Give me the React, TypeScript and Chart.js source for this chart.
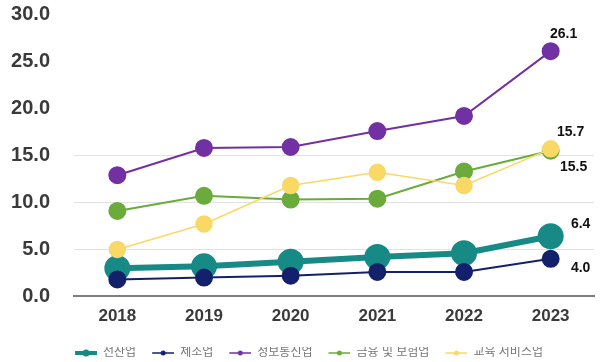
import React, { useEffect, useRef } from "react";
import { Chart, registerables } from "chart.js";

Chart.register(...registerables);

const years = ["2018", "2019", "2020", "2021", "2022", "2023"];
const seriesNames = ["전산업", "제조업", "정보통신업", "금융 및 보험업", "교육 서비스업"];
const allIndustries = [3.0, 3.2, 3.7, 4.2, 4.6, 6.4];
const manufacturing = [1.8, 2.0, 2.2, 2.6, 2.6, 4.0];
const infoComm = [12.9, 15.8, 15.9, 17.6, 19.2, 26.1];
const finance = [9.1, 10.7, 10.3, 10.4, 13.3, 15.5];
const education = [5.0, 7.7, 11.8, 13.2, 11.8, 15.7];
const yTicks = [0, 5, 10, 15, 20, 25, 30];

const FONT = "'Liberation Sans', 'Noto Sans CJK KR', Arial, sans-serif";
const colors = ["#178a86", "#13206b", "#7231a3", "#6aab3c", "#f9d866"];
const lineWidths = [6, 2, 2, 2, 1.5];
const radii = [10, 8, 8, 8, 8];

// labels at last point: [datasetIndex, dx, dy]
const endLabels: [number, number, number][] = [
  [2, 13, -17],
  [4, 20, -17],
  [3, 23, 16],
  [0, 30, -12],
  [1, 30, 9],
];

const ICON_GAP = 14;
function legendIcon(color: string, lw: number, r: number) {
  const c = document.createElement("canvas");
  c.width = 24 + ICON_GAP;
  c.height = 10;
  const ctx = c.getContext("2d")!;
  ctx.strokeStyle = color;
  ctx.lineWidth = lw;
  ctx.beginPath();
  ctx.moveTo(ICON_GAP + 2, 5);
  ctx.lineTo(ICON_GAP + 24, 5);
  ctx.stroke();
  ctx.fillStyle = color;
  ctx.beginPath();
  ctx.arc(ICON_GAP + 13, 5, r, 0, Math.PI * 2);
  ctx.fill();
  return c;
}

export default function App() {
  const ref = useRef<HTMLCanvasElement>(null);
  useEffect(() => {
    document.body.style.margin = "0";
    const values = [allIndustries, manufacturing, infoComm, finance, education];
    const icons = colors.map((c, i) => legendIcon(c, i === 0 ? 4 : 1.5, i === 0 ? 3.5 : 2.5));
    const labelPlugin = {
      id: "endLabels",
      afterDatasetsDraw(chart: any) {
        const ctx = chart.ctx;
        ctx.save();
        ctx.font = `bold 14px ${FONT}`;
        ctx.fillStyle = "#111";
        ctx.textAlign = "center";
        ctx.textBaseline = "middle";
        endLabels.forEach(([di, dx, dy]) => {
          const meta = chart.getDatasetMeta(di);
          const pt = meta.data[meta.data.length - 1];
          const v = values[di][values[di].length - 1];
          ctx.fillText(v.toFixed(1), pt.x + dx, pt.y + dy);
        });
        ctx.restore();
      },
    };
    const chart = new Chart(ref.current!, {
      type: "line",
      data: {
        labels: years,
        datasets: seriesNames.map((n, i) => ({
          label: n,
          data: values[i],
          borderColor: colors[i],
          backgroundColor: colors[i],
          pointBackgroundColor: colors[i],
          pointBorderColor: colors[i],
          borderWidth: lineWidths[i],
          pointRadius: radii[i],
          pointHoverRadius: radii[i],
          tension: 0,
          order: 5 - i,
        })),
      },
      options: {
        animation: false,
        responsive: false,
        layout: { autoPadding: false, padding: { left: 8, right: 6, top: 14.5, bottom: -7 } },
        scales: {
          x: {
            offset: true,
            grid: { display: false },
            border: { display: true, color: "#7f7f7f", width: 2 },
            ticks: { font: { family: FONT, size: 17, weight: "bold" }, color: "#3a3a3a", padding: 2 },
            afterFit: (s: any) => {
              s.height = 50.6;
            },
          },
          y: {
            min: 0,
            max: 30,
            afterBuildTicks: (s: any) => {
              s.ticks = yTicks.map((v) => ({ value: v }));
            },
            afterFit: (s: any) => {
              s.width = 66;
              s.paddingTop = 0;
              s.paddingBottom = 0;
            },
            border: { display: false },
            grid: {
              color: (c: any) => (c.tick && c.tick.value > 0 && c.tick.value <= 15 ? "#e2e2e2" : "rgba(0,0,0,0)"),
              lineWidth: 1,
              drawTicks: false,
            },
            ticks: {
              font: { family: FONT, size: 20, weight: "bold" },
              color: "#3a3a3a",
              padding: 24,
              callback: (v: any) => Number(v).toFixed(1),
            },
          },
        },
        plugins: {
          tooltip: { enabled: false },
          legend: {
            position: "bottom",
            labels: {
              sort: (a: any, b: any) => a.datasetIndex - b.datasetIndex,
              usePointStyle: true,
              pointStyleWidth: 24 + ICON_GAP,
              padding: 0,
              color: "#777",
              font: { family: FONT, size: 12 },
              generateLabels: (ch: any) => {
                const items = Chart.defaults.plugins.legend.labels.generateLabels(ch);
                return items.map((it: any, i: number) => ({ ...it, pointStyle: icons[it.datasetIndex ?? i] }));
              },
            },
          },
        },
      },
      plugins: [labelPlugin],
    });
    return () => chart.destroy();
  }, []);
  return (
    <div style={{ position: "fixed", left: 0, top: 0, width: 600, height: 362, background: "#fff" }}>
      <canvas ref={ref} width={600} height={362} />
    </div>
  );
}
